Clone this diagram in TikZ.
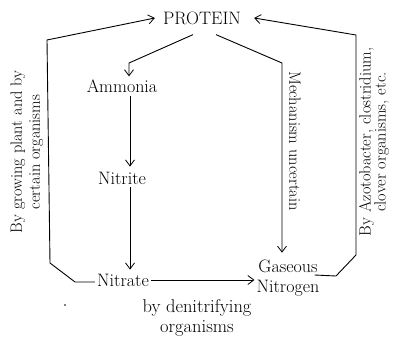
\documentclass[tikz,border=0pt]{standalone}
\usetikzlibrary{arrows.meta,calc}
\begin{document}
\begin{tikzpicture}[x=1pt,y=-1pt,
  lbl/.style={inner sep=2pt,font=\fontsize{18}{20}\selectfont},
  rlbl/.style={inner sep=2pt,font=\fontsize{16.3}{18}\selectfont},
  ln/.style={line width=0.9pt},
  arr/.style={ln,-{Straight Barb[length=6pt,width=9pt,line width=0.8pt]}}]
\useasboundingbox (0,0) rectangle (394,337);
\node[lbl] (protein) at (202,18) {PROTEIN};
\node[lbl] (ammonia) at (122,86) {Ammonia};
\node[lbl] (nitrite) at (122,178) {Nitrite};
\node[lbl] (nitrate) at (123,280) {Nitrate};
\node[lbl,align=center,font=\fontsize{18}{20}\selectfont] (gas) at (288,278) {Gaseous\\Nitrogen};
% labels
\node[rlbl,rotate=90,align=center] (lefttxt) at (27,152) {By growing plant and by\\certain organisms};
\node[rlbl,rotate=90,align=center,font=\fontsize{16.3}{15}\selectfont] (righttxt) at (374,142) {By Azotobacter, clostridium,\\clover organisms, etc.};
\node[rlbl,rotate=-90] (mech) at (295,141) {Mechanism uncertain};
\node[lbl,align=center,font=\fontsize{18.5}{20}\selectfont] (denit) at (197,318) {by denitrifying\\organisms};
% bend points
\coordinate (a1) at (129,63);
\coordinate (m1) at (282,63);
\coordinate (l1) at (75,282);
\coordinate (l2) at (50,263);
\coordinate (l3) at (47,40);
\coordinate (r1) at (336,276);
\coordinate (r2) at (356,255);
\coordinate (r3) at (356,35);
% connectors
\draw[arr] ($(protein.south)+(-9,8)$) -- (a1) -- ([xshift=7pt,yshift=1pt]ammonia.north);
\draw[arr] ([xshift=8pt,yshift=-1pt]ammonia.south) -- ([xshift=8pt,yshift=3pt]nitrite.north);
\draw[arr] ([xshift=8pt,yshift=-1pt]nitrite.south) -- ([xshift=7pt,yshift=2pt]nitrate.north);
\draw[arr] (nitrate.east) -- (nitrate.east -| gas.west);
\draw[arr] ($(protein.south)+(14,8)$) -- (m1) -- ([yshift=5pt]m1 |- gas.north);
\draw[arr] (nitrate.west |- l1) -- (l1) -- (l2) -- (l3) -- ([xshift=-6pt]protein.west);
\draw[arr] ([xshift=-7pt,yshift=3pt]gas.east) -- (r1) -- (r2) -- (r3) -- ([xshift=11pt]protein.east);
\fill (65,305) circle (0.9pt);
\end{tikzpicture}
\end{document}
